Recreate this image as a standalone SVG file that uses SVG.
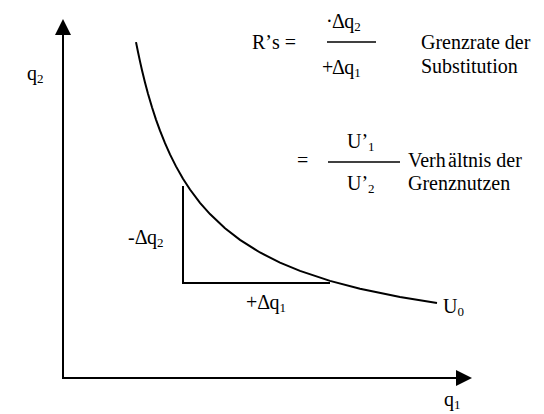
<svg xmlns="http://www.w3.org/2000/svg" width="544" height="414" viewBox="0 0 544 414">
<style>
.ln{stroke:#000;stroke-width:2;fill:none}
</style>
<defs>
<marker id="ah" markerWidth="16" markerHeight="16" refX="0" refY="8" orient="auto" markerUnits="userSpaceOnUse">
<path d="M0,0 L16,8 L0,16 Z" fill="#000"/>
</marker>
</defs>
<rect width="544" height="414" fill="#fff"/>
<g id="connectors">
<line class="ln" x1="63" y1="379" x2="63" y2="35" marker-end="url(#ah)"/>
<line class="ln" x1="62" y1="378" x2="456" y2="378" marker-end="url(#ah)"/>
</g>
<g id="curve">
<polyline class="ln" points="136,42.1 138,52 140,61.4 142,70.2 145,82.4 148,93.7 152,107.3 156,119.6 160,130.7 165,143.2 170,154.4 176,166.4 183,178.7 190,189.5 200,202.8 210,214.1 225,228.3 240,239.9 260,252.5 280,262.6 300,270.9 330,280.9 360,288.8 400,297.1 437,303.1"/>
</g>
<g id="triangle">
<polyline class="ln" points="183,186 183,283 330,283"/>
</g>
<line x1="327" y1="42" x2="376" y2="42" stroke="#000" stroke-width="1.5"/>
<line x1="328" y1="162" x2="400" y2="162" stroke="#000" stroke-width="1.5"/>
<text font-family="Liberation Serif" font-size="20" x="27" y="80">q</text>
<text font-family="Liberation Serif" font-size="13" x="37" y="83">2</text>
<text font-family="Liberation Serif" font-size="20" x="444" y="406">q</text>
<text font-family="Liberation Serif" font-size="13" x="454" y="409">1</text>
<text font-family="Liberation Serif" font-size="20" x="443" y="313">U</text>
<text font-family="Liberation Serif" font-size="13" x="457.4" y="316">0</text>
<text font-family="Liberation Serif" font-size="20" x="128" y="244">-</text>
<text font-family="Liberation Serif" font-size="20" x="134.7" y="244">Δ</text>
<text font-family="Liberation Serif" font-size="20" x="146.9" y="244">q</text>
<text font-family="Liberation Serif" font-size="13" x="156.9" y="247">2</text>
<text font-family="Liberation Serif" font-size="20" x="246" y="309">+</text>
<text font-family="Liberation Serif" font-size="20" x="257.3" y="309">Δ</text>
<text font-family="Liberation Serif" font-size="20" x="269.5" y="309">q</text>
<text font-family="Liberation Serif" font-size="13" x="279.5" y="312">1</text>
<text font-family="Liberation Serif" font-size="20" x="252" y="49">R</text>
<text font-family="Liberation Serif" font-size="20" x="265.3" y="49">’</text>
<text font-family="Liberation Serif" font-size="20" x="272" y="49">s =</text>
<text font-family="Liberation Serif" font-size="20" x="326" y="28">·</text>
<text font-family="Liberation Serif" font-size="20" x="332" y="28">Δ</text>
<text font-family="Liberation Serif" font-size="20" x="344.2" y="28">q</text>
<text font-family="Liberation Serif" font-size="13" x="354.2" y="31">2</text>
<text font-family="Liberation Serif" font-size="20" x="322" y="74">+</text>
<text font-family="Liberation Serif" font-size="20" x="332" y="74">Δ</text>
<text font-family="Liberation Serif" font-size="20" x="344.2" y="74">q</text>
<text font-family="Liberation Serif" font-size="13" x="354.2" y="77">1</text>
<text font-family="Liberation Serif" font-size="20" x="421" y="49">Grenzrate der</text>
<text font-family="Liberation Serif" font-size="20" x="421" y="73">Substitution</text>
<text font-family="Liberation Serif" font-size="20" x="297" y="167">=</text>
<text font-family="Liberation Serif" font-size="20" x="347" y="148">U</text>
<text font-family="Liberation Serif" font-size="20" x="361.4" y="148">’</text>
<text font-family="Liberation Serif" font-size="13" x="368.1" y="151">1</text>
<text font-family="Liberation Serif" font-size="20" x="347" y="190">U</text>
<text font-family="Liberation Serif" font-size="20" x="361.4" y="190">’</text>
<text font-family="Liberation Serif" font-size="13" x="368.1" y="193">2</text>
<text font-family="Liberation Serif" font-size="20" x="408" y="167">Verh</text>
<text font-family="Liberation Serif" font-size="20" x="448" y="167">ä</text>
<text font-family="Liberation Serif" font-size="20" x="456.9" y="167">ltnis der</text>
<text font-family="Liberation Serif" font-size="20" x="408" y="190">Grenznutzen</text>
</svg>
